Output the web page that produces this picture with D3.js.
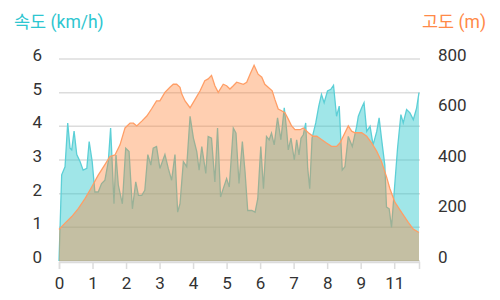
<!DOCTYPE html>
<html>
<head>
<meta charset="utf-8">
<script src="https://cdn.jsdelivr.net/npm/d3@7"></script>
<style>
    body { margin: 0; background: #fff; }
    text { font-family: Roboto, "Noto Sans CJK KR", sans-serif; }
</style>
</head>
<body>
<svg id="chart" width="500" height="300"></svg>
<script>
// distance (km) / speed (km/h)
const speedKm = [0, 0.08, 0.18, 0.26, 0.33, 0.38, 0.45, 0.53, 0.63, 0.72, 0.83, 0.90, 0.99, 1.07, 1.17, 1.27,
    1.37, 1.47, 1.54, 1.59, 1.64, 1.70, 1.77, 1.89, 1.99, 2.09, 2.19, 2.29, 2.37, 2.47, 2.56, 2.65, 2.74,
    2.81, 2.91, 3.01, 3.16, 3.26, 3.36, 3.46, 3.54, 3.61, 3.71, 3.81, 3.91, 4.01, 4.11, 4.18, 4.26, 4.38,
    4.45, 4.55, 4.65, 4.73, 4.82, 4.90, 5.00, 5.08, 5.20, 5.28, 5.37, 5.47, 5.55, 5.63, 5.75, 5.85, 5.93,
    6.02, 6.10, 6.19, 6.27, 6.34, 6.42, 6.52, 6.62, 6.72, 6.79, 6.84, 6.92, 7.02, 7.09, 7.16, 7.22, 7.29,
    7.36, 7.42, 7.48, 7.55, 7.66, 7.75, 7.83, 7.91, 8.01, 8.11, 8.19, 8.28, 8.36, 8.45, 8.53, 8.63, 8.75,
    8.88, 8.93, 9.03, 9.10, 9.18, 9.28, 9.37, 9.48, 9.55, 9.62, 9.72, 9.77, 9.85, 9.92, 10.00, 10.10,
    10.20, 10.27, 10.37, 10.47, 10.57, 10.67, 10.74];
const speedValues = [0, 2.56, 2.8, 4.1, 3.35, 3.3, 3.86, 3.16, 2.95, 2.7, 2.75, 3.55, 2.95, 2.05, 2.05, 2.3,
    2.4, 2.95, 3.95, 2.85, 1.7, 3.15, 2.25, 1.7, 3.35, 3.25, 1.55, 2.35, 1.95, 1.95, 2.1, 3.16, 2.85,
    3.35, 3.4, 2.75, 3.16, 2.75, 2.4, 3.16, 1.45, 1.7, 2.95, 2.8, 4.3, 3.65, 3.25, 2.7, 3.4, 2.6,
    3.7, 3.65, 2.35, 3.95, 1.9, 2.15, 2.45, 2.2, 3.95, 3.8, 2.3, 3.55, 2.65, 1.5, 1.5, 1.45, 1.85,
    3.4, 2.15, 3.7, 3.6, 3.8, 3.45, 4.25, 3.6, 4.55, 3.9, 3.3, 3.65, 3.0, 3.6, 3.15, 3.65, 3.75,
    4.1, 2.75, 2.15, 3.65, 4.1, 4.6, 4.95, 4.7, 5.05, 5.1, 5.22, 4.3, 4.6, 2.7, 2.8, 3.7, 3.4,
    4.0, 4.3, 4.55, 4.7, 3.85, 4.0, 3.45, 3.85, 4.25, 3.65, 2.85, 1.6, 1.55, 1.0, 2.05, 3.35,
    4.35, 4.1, 4.5, 4.4, 4.2, 4.55, 5.0];

// distance (km) / altitude (m)
const altKm = [0, 0.18, 0.38, 0.58, 0.78, 0.98, 1.17, 1.37, 1.52, 1.67, 1.82, 1.97, 2.12, 2.22, 2.32, 2.47,
    2.62, 2.76, 2.91, 3.01, 3.16, 3.31, 3.41, 3.51, 3.61, 3.66, 3.76, 3.91, 4.06, 4.21, 4.35, 4.45, 4.55,
    4.65, 4.75, 4.90, 5.00, 5.10, 5.20, 5.30, 5.50, 5.60, 5.70, 5.82, 5.94, 6.05, 6.14, 6.24, 6.36, 6.44,
    6.54, 6.64, 6.74, 6.84, 6.94, 7.04, 7.19, 7.29, 7.44, 7.58, 7.69, 7.83, 7.98, 8.13, 8.28, 8.38, 8.48,
    8.63, 8.73, 8.83, 9.03, 9.18, 9.33, 9.48, 9.62, 9.77, 9.87, 10.02, 10.22, 10.42, 10.57, 10.74];
const altValues = [125, 150, 176, 208, 248, 294, 340, 382, 414, 420, 460, 527, 546, 546, 535, 554,
    574, 602, 634, 634, 668, 688, 700, 700, 688, 662, 634, 607, 640, 674, 714, 721, 735,
    694, 668, 700, 694, 681, 694, 708, 700, 708, 740, 775, 740, 728, 700, 688, 674, 640,
    602, 595, 587, 562, 535, 520, 520, 527, 508, 494, 494, 481, 467, 454, 454, 467, 494,
    535, 514, 508, 508, 494, 467, 434, 394, 334, 287, 233, 193, 153, 126, 113];

const xTicks = [0, 1, 2, 3, 4, 5, 6, 7, 8, 9, 10];
const xTickLabels = ["0", "1", "2", "3", "4", "5", "6", "7", "8", "9", "11"];
const speedTicks = [0, 1, 2, 3, 4, 5, 6];
const altTicks = [0, 200, 400, 600, 800];

const svg = d3.select("#chart");
const plotLeft = 59, plotRight = 419, plotTop = 59, plotBottom = 261;

let x = d3.scaleLinear().domain([0, 10.74]).range([plotLeft, plotRight]);
let ySpeed = d3.scaleLinear().domain([0, 6]).range([plotBottom, plotTop]);
let yAlt = d3.scaleLinear().domain([0, 800]).range([plotBottom, plotTop]);

// grid
svg.selectAll(".grid")
    .data(speedTicks)
    .enter()
    .append("line")
    .attr("class", "grid")
    .attr("x1", plotLeft)
    .attr("x2", plotRight + 1)
    .attr("y1", d => ySpeed(d))
    .attr("y2", d => ySpeed(d))
    .style("stroke", "#dcdcdc")
    .style("stroke-width", 1.5);

let speedData = speedKm.map((k, i) => ({'km': k, 'v': speedValues[i]}));
let altData = altKm.map((k, i) => ({'km': k, 'v': altValues[i]}));

let speedArea = d3.area().x(d => x(d.km)).y0(plotBottom).y1(d => ySpeed(d.v));
let speedLine = d3.line().x(d => x(d.km)).y(d => ySpeed(d.v));
let altArea = d3.area().x(d => x(d.km)).y0(plotBottom).y1(d => yAlt(d.v));
let altLine = d3.line().x(d => x(d.km)).y(d => yAlt(d.v));

svg.append("path")
    .datum(speedData)
    .attr("d", speedArea)
    .style("fill", "rgba(44,199,204,0.45)");
svg.append("path")
    .datum(speedData)
    .attr("d", speedLine)
    .style("fill", "none")
    .style("stroke", "#5ccfd6")
    .style("stroke-width", 1.3);

// altitude drawn over speed, overlap gives the olive tone
svg.append("path")
    .datum(altData)
    .attr("d", altArea)
    .style("fill", "rgba(255,128,50,0.38)");
svg.append("path")
    .datum(altData)
    .attr("d", altLine)
    .style("fill", "none")
    .style("stroke", "#ff9e66")
    .style("stroke-width", 1.3);

// x axis
let xAxis = svg.append("g")
    .attr("transform", `translate(0,${plotBottom + 1})`)
    .call(d3.axisBottom(x)
        .tickValues(xTicks)
        .tickSize(7)
        .tickPadding(8)
        .tickFormat((d, i) => xTickLabels[i]));
xAxis.select(".domain").style("stroke", "#dcdcdc").style("stroke-width", 1.5);
xAxis.selectAll(".tick line").style("stroke", "#dcdcdc").style("stroke-width", 1.5);
xAxis.selectAll(".tick text")
    .style("font-size", "17px")
    .style("fill", "#333");

// left axis labels
svg.selectAll(".speedlabel")
    .data(speedTicks)
    .enter()
    .append("text")
    .attr("class", "speedlabel")
    .attr("x", 42)
    .attr("y", d => ySpeed(d) - 4)
    .attr("dy", "0.35em")
    .attr("text-anchor", "end")
    .style("font-size", "17px")
    .style("fill", "#333")
    .text(d => d);

// right axis labels
svg.selectAll(".altlabel")
    .data(altTicks)
    .enter()
    .append("text")
    .attr("class", "altlabel")
    .attr("x", 438)
    .attr("y", d => yAlt(d) - 4)
    .attr("dy", "0.35em")
    .attr("text-anchor", "start")
    .style("font-size", "17px")
    .style("fill", "#333")
    .text(d => d);

// titles
svg.append("text")
    .attr("x", 14)
    .attr("y", 28)
    .style("font-size", "17.5px")
    .style("fill", "#2ec6d0")
    .text("속도 (km/h)");
svg.append("text")
    .attr("x", 486)
    .attr("y", 28)
    .attr("text-anchor", "end")
    .style("font-size", "17.5px")
    .style("fill", "#ff8a48")
    .text("고도 (m)");
</script>
</body>
</html>
